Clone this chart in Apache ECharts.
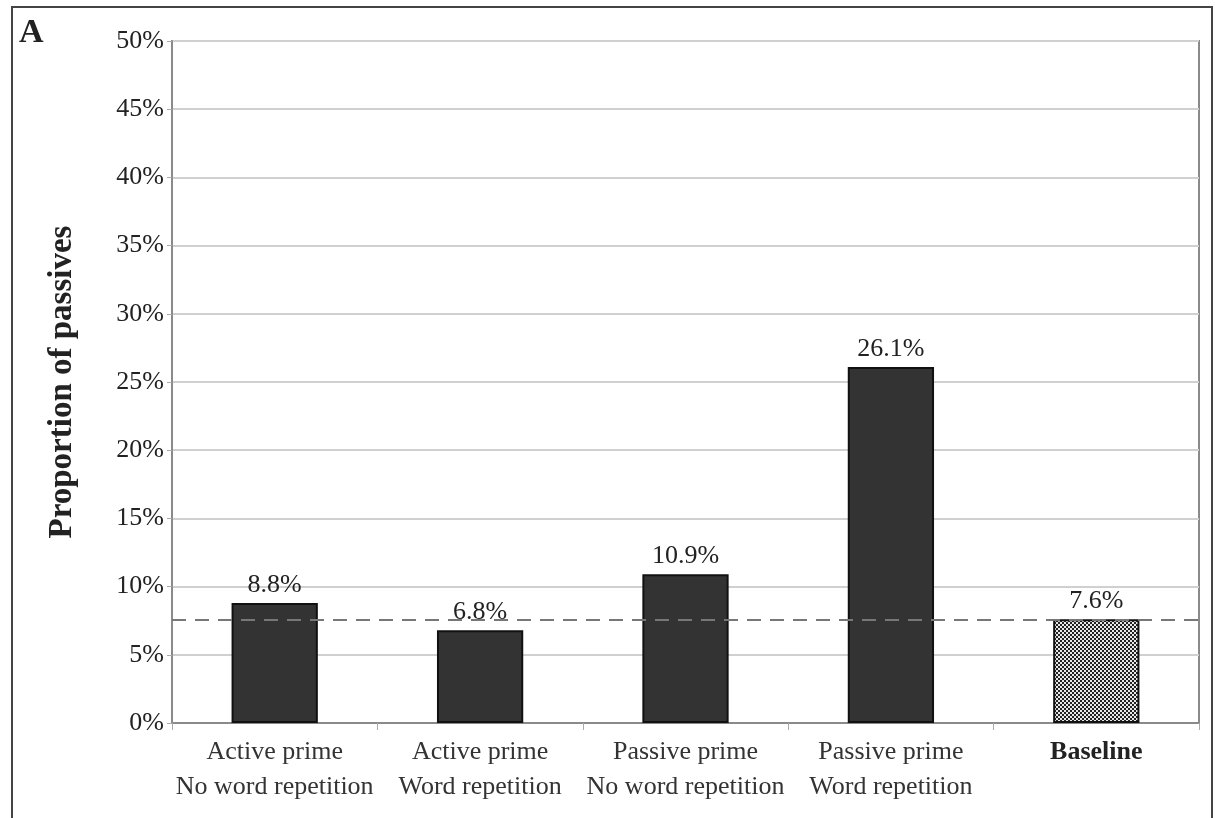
<!DOCTYPE html>
<html><head><meta charset="utf-8">
<script src="https://cdn.jsdelivr.net/npm/echarts@6/dist/echarts.min.js"></script>
<style>html,body{margin:0;padding:0;background:#fff}#c{width:1215px;height:818px}</style>
</head><body><div id="c"></div>
<script>
const categories = ['Active prime\nNo word repetition','Active prime\nWord repetition','Passive prime\nNo word repetition','Passive prime\nWord repetition','Baseline'];
const values = [8.8, 6.8, 10.9, 26.1, 7.6];
const baselineLevel = 7.6;
const yTicks = [0,5,10,15,20,25,30,35,40,45,50];

const pc = document.createElement('canvas');
pc.width = 4; pc.height = 4;
const g = pc.getContext('2d');
g.fillStyle = '#e8e8e8'; g.fillRect(0,0,4,4);
g.fillStyle = '#222';
g.fillRect(0,0,2,2); g.fillRect(2,2,2,2);

const font = 'Liberation Serif';
const chart = echarts.init(document.getElementById('c'));
chart.setOption({
  animation:false,
  textStyle:{fontFamily:font},
  graphic:[
    {type:'polyline', shape:{points:[[12,830],[12,7],[1212,7],[1212,830]]}, style:{stroke:'#444',lineWidth:2,fill:null}, silent:true},
    {type:'text', left:19, top:16, style:{text:'A', font:'bold 34px "Liberation Serif"', fill:'#222'}}
  ],
  grid:{left:172, top:41, right:16, bottom:95, show:true, borderColor:'#8a8a8a', borderWidth:2, containLabel:false},
  xAxis:{type:'category', data:categories,
    axisLine:{lineStyle:{color:'#8a8a8a',width:2}},
    axisTick:{show:true, alignWithLabel:false, length:7, lineStyle:{color:'#aaa',width:1}},
    axisLabel:{color:'#333', fontSize:26, fontFamily:font, lineHeight:35, margin:12, interval:0,
      formatter: v => v === 'Baseline' ? '{b|Baseline}' : v,
      rich:{b:{fontSize:26, fontWeight:'bold', color:'#222', fontFamily:font, lineHeight:35}}}},
  yAxis:{type:'value', min:0, max:50, interval:5,
    name:'Proportion of passives', nameLocation:'middle', nameGap:93,
    nameTextStyle:{fontSize:33, fontWeight:'bold', color:'#222', fontFamily:font},
    axisLine:{show:true, lineStyle:{color:'#8a8a8a',width:2}},
    axisTick:{show:true, length:5, lineStyle:{color:'#aaa'}},
    splitLine:{lineStyle:{color:'#d0d0d0',width:2}},
    axisLabel:{formatter: v => yTicks.includes(v) ? v+'%' : '', color:'#222', fontSize:26, fontFamily:font, margin:8}},
  series:[{
    type:'bar', barWidth:'42%',
    data: values.map((v,i)=> i===4 ? {value:v, itemStyle:{color:{image:pc, repeat:'repeat'}}} : v),
    itemStyle:{color:'#333', borderColor:'#111', borderWidth:2},
    label:{show:true, position:'top', distance:5, formatter: p => p.value.toFixed(1)+'%', color:'#222', fontSize:26, fontFamily:font},
    markLine:{symbol:'none', silent:true, label:{show:false},
      lineStyle:{color:'#777', type:[14,9], width:2},
      data:[{yAxis: baselineLevel}]},
    z:2
  }]
});
</script></body></html>
